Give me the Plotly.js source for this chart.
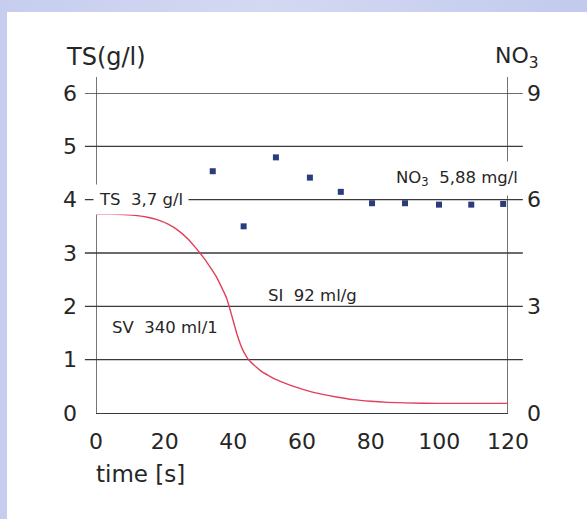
<!DOCTYPE html>
<html>
<head>
<meta charset="utf-8">
<script src="https://cdn.plot.ly/plotly-3.0.1.min.js"></script>
<style>
  html, body { margin:0; padding:0; }
  body { width:587px; height:519px; overflow:hidden; position:relative;
         background: linear-gradient(to right, #c6cdee 0%, #d4d9f2 45%, #c2caed 100%); }
  #chart { position:absolute; left:7px; top:12px; width:580px; height:507px; background:#fff; }
</style>
</head>
<body>
<div id="chart"></div>
<script>
// TS settling curve (g/l) vs time (s)
const tsTime = [0, 4, 8, 12, 15, 18, 21, 24, 27, 29, 31, 33, 35, 37, 38, 39, 40, 41, 42, 43, 44, 45, 46.5, 48, 50, 52, 55, 58, 62, 66, 70, 75, 80, 85, 90, 100, 110, 120];
const tsValue = [3.73, 3.73, 3.72, 3.70, 3.67, 3.62, 3.54, 3.42, 3.25, 3.10, 2.94, 2.76, 2.56, 2.30, 2.16, 1.95, 1.72, 1.49, 1.30, 1.15, 1.04, 0.96, 0.87, 0.79, 0.71, 0.64, 0.56, 0.49, 0.41, 0.35, 0.30, 0.25, 0.22, 0.20, 0.19, 0.18, 0.18, 0.18];
// NO3 measurements (mg/l)
const no3Time = [34, 43, 52.4, 62.3, 71.3, 80.4, 90, 99.9, 109.3, 118.6];
const no3Value = [6.8, 5.25, 7.19, 6.62, 6.22, 5.9, 5.9, 5.86, 5.86, 5.88];
// axis ticks
const xTicks = [0, 20, 40, 60, 80, 100, 120];
const yTicks = [0, 1, 2, 3, 4, 5, 6];
const y2Ticks = [0, 3, 6, 9];
const gridLevels = [1, 2, 3, 4, 5, 6];

const FONT = '"DejaVu Sans", "Open Sans", sans-serif';
const TXT = '#262626';
const LINE = '#3a3a3a';
const ANN = 16.5;

const traces = [
  { x: tsTime, y: tsValue, type: 'scatter', mode: 'lines', yaxis: 'y',
    line: { color: '#e0405a', width: 1.4, shape: 'spline', smoothing: 0.6 },
    hoverinfo: 'skip' },
  { x: no3Time, y: no3Value, type: 'scatter', mode: 'markers', yaxis: 'y2',
    marker: { symbol: 'square', size: 6, color: '#2a3c7c' }, hoverinfo: 'skip' }
];

const shapes = [];
gridLevels.forEach(v => shapes.push({
  type: 'line', xref: 'paper', yref: 'y', x0: -0.027, x1: 1.036, y0: v, y1: v,
  line: { color: LINE, width: 1.3 }, layer: 'below'
}));
// vertical axis lines extending above plot
shapes.push({ type: 'line', xref: 'x', yref: 'paper', x0: 0, x1: 0, y0: 0, y1: 1.05,
  line: { color: LINE, width: 1.4 }, layer: 'below' });
shapes.push({ type: 'line', xref: 'x', yref: 'paper', x0: 120, x1: 120, y0: 0, y1: 1.05,
  line: { color: LINE, width: 1.4 }, layer: 'below' });

const annotations = [
  { text: 'TS(g/l)', xref: 'paper', yref: 'paper', x: -0.077, y: 1.112, xanchor: 'left', yanchor: 'middle',
    showarrow: false, font: { family: FONT, size: 24, color: TXT } },
  { text: 'NO<sub>3</sub>', xref: 'paper', yref: 'paper', x: 1.022, y: 1.112, xanchor: 'center', yanchor: 'middle',
    showarrow: false, font: { family: FONT, size: 22, color: TXT } },
  { text: 'time [s]', xref: 'paper', yref: 'paper', x: -0.004, y: -0.19, xanchor: 'left', yanchor: 'middle',
    showarrow: false, font: { family: FONT, size: 23, color: TXT } },
  { text: 'TS  3,7 g/l', xref: 'x', yref: 'y', x: 0, y: 4, xanchor: 'left', yanchor: 'middle', xshift: -3,
    showarrow: false, bgcolor: '#ffffff', borderpad: 5, font: { family: FONT, size: ANN, color: TXT } },
  { text: 'NO<sub>3</sub>  5,88 mg/l', xref: 'x', yref: 'y', x: 85.3, y: 4.4, xanchor: 'left', yanchor: 'middle',
    showarrow: false, bgcolor: '#ffffff', borderpad: 6, font: { family: FONT, size: ANN, color: TXT } },
  { text: 'SV  340 ml/1', xref: 'x', yref: 'y', x: 4.1, y: 1.61, xanchor: 'left', yanchor: 'middle',
    showarrow: false, font: { family: FONT, size: ANN, color: TXT } },
  { text: 'SI  92 ml/g', xref: 'x', yref: 'y', x: 49.5, y: 2.2, xanchor: 'left', yanchor: 'middle',
    showarrow: false, font: { family: FONT, size: ANN, color: TXT } }
];

const layout = {
  width: 580, height: 507,
  margin: { l: 89, r: 79, t: 81, b: 106 },
  paper_bgcolor: '#ffffff', plot_bgcolor: 'rgba(0,0,0,0)',
  showlegend: false,
  xaxis: { range: [0, 120], tickvals: xTicks, ticktext: xTicks.map(String),
    showgrid: false, zeroline: false, showline: true, linecolor: LINE, linewidth: 1.4,
    ticks: '', ticklabelstandoff: 8, tickfont: { family: FONT, size: 22, color: TXT }, fixedrange: true },
  yaxis: { range: [0, 6], tickvals: yTicks, ticktext: yTicks.map(String),
    showgrid: false, zeroline: false, showline: false,
    ticks: '', ticklabelstandoff: 18, tickfont: { family: FONT, size: 22, color: TXT }, fixedrange: true },
  yaxis2: { range: [0, 9], tickvals: y2Ticks, ticktext: y2Ticks.map(String), overlaying: 'y', side: 'right',
    showgrid: false, zeroline: false, showline: false,
    ticks: '', ticklabelstandoff: 18, tickfont: { family: FONT, size: 22, color: TXT }, fixedrange: true },
  shapes: shapes,
  annotations: annotations
};

Plotly.newPlot('chart', traces, layout, { displayModeBar: false, staticPlot: true });
</script>
</body>
</html>
